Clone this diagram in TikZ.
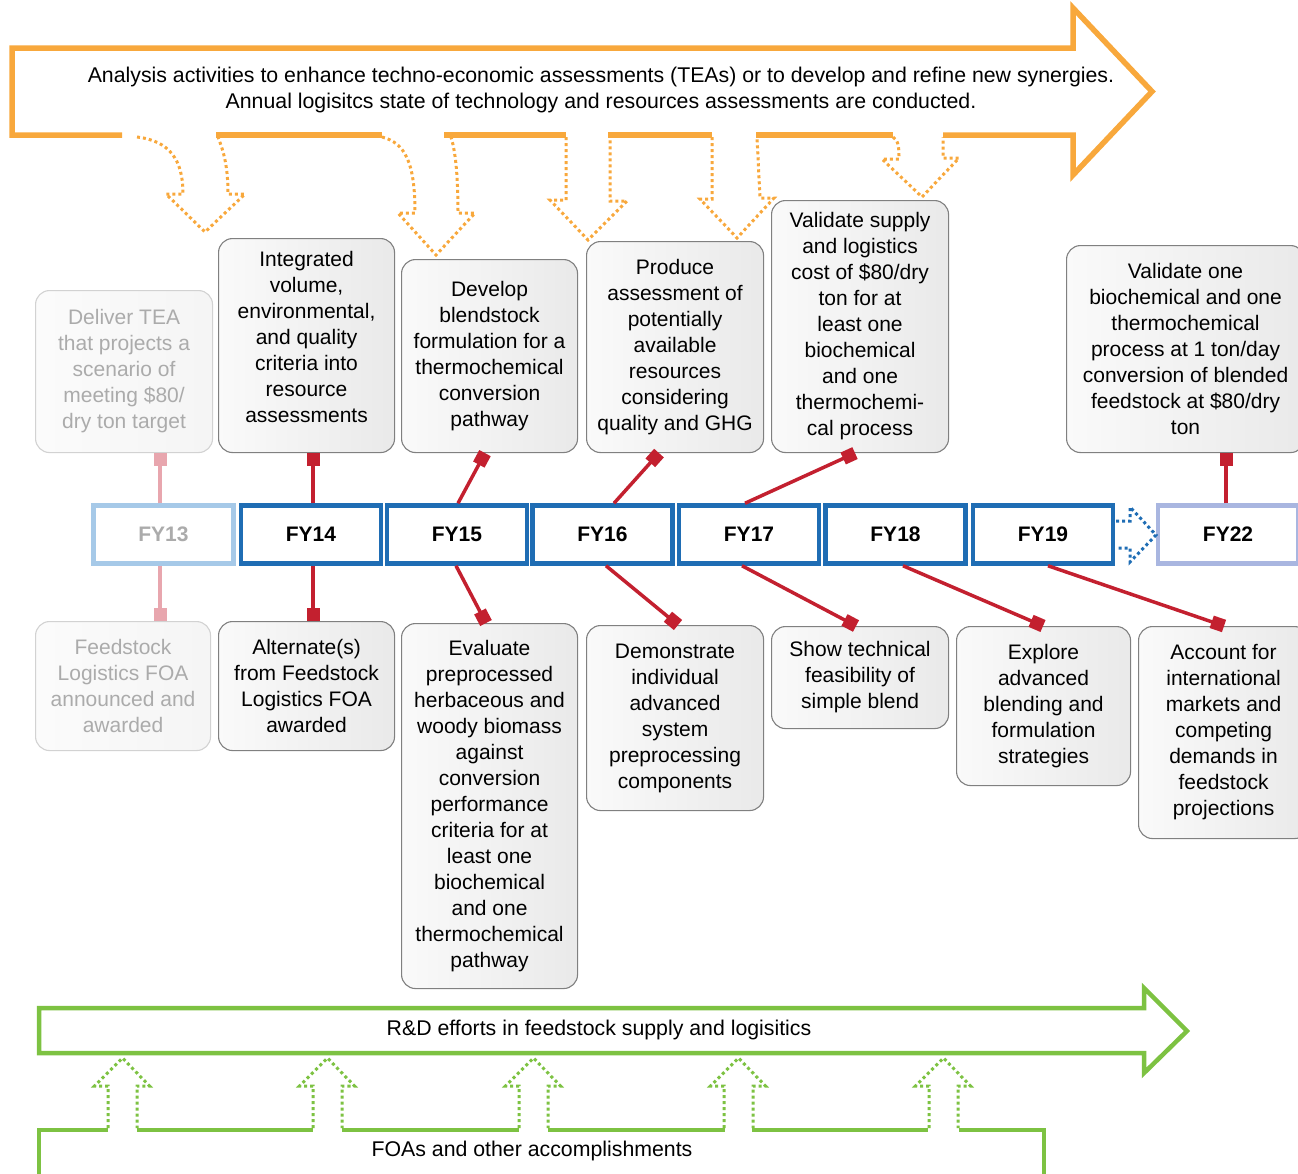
\documentclass[tikz,border=0pt]{standalone}
\usepackage{fontspec}
\setmainfont{Liberation Sans}
\usetikzlibrary{arrows.meta,calc}
\definecolor{orA}{HTML}{F8A83C}
\definecolor{grA}{HTML}{7DC242}
\definecolor{blA}{HTML}{1F6DB4}
\definecolor{blL}{HTML}{A6C9E8}
\definecolor{blP}{HTML}{A9B6E0}
\definecolor{redA}{HTML}{C3202F}
\definecolor{pinkA}{HTML}{E8A6AE}
\definecolor{txtF}{HTML}{ABABAB}
\definecolor{bordA}{HTML}{808080}
\begin{document}
\begin{tikzpicture}[x=1pt,y=-1pt,
 box/.style={draw=bordA, line width=1.1pt, rounded corners=14pt, anchor=north west, align=center, inner sep=0pt, font=\fontsize{21}{26}\selectfont, left color=gray!4, right color=gray!17, text=black},
 fbox/.style={box, draw=gray!35, left color=gray!3, right color=gray!8, text=txtF},
 fy/.style={draw=blA, line width=4.5pt, minimum width=140pt, minimum height=58pt, inner sep=0pt, font=\fontsize{21}{26}\selectfont\bfseries, fill=white},
 conn/.style={draw=redA, line width=3.5pt, -{Square[length=13pt,width=13pt]}},
 fconn/.style={conn, draw=pinkA},
 obig/.style={draw=orA, line width=5.5pt, line join=miter, miter limit=10},
 gbig/.style={draw=grA, line width=4.5pt, line join=miter, miter limit=10},
 odot/.style={draw=orA, line width=3pt, dash pattern=on 3pt off 3pt},
 gdot/.style={draw=grA, line width=3pt, dash pattern=on 3pt off 3pt},
 bdot/.style={draw=blA, line width=3pt, dash pattern=on 3pt off 3pt},
 lbl/.style={font=\fontsize{21.3}{26}\selectfont, align=center, inner sep=0pt}
]
\useasboundingbox (0,0) rectangle (1298,1173);
\clip (0,0) rectangle (1298,1173);

% ---- orange analysis arrow ----
\draw[obig] (122,135) -- (12,135) -- (12,48) -- (1073,48) -- (1073,8) -- (1152,91.5) -- (1073,175) -- (1073,135) -- (943,135);
\draw[obig] (216,135) -- (382,135);
\draw[obig] (444,135) -- (566,135);
\draw[obig] (608,135) -- (712,135);
\draw[obig] (756,135) -- (893,135);
\node[lbl] (toptext) at (601,90) {Analysis activities to enhance techno-economic assessments (TEAs) or to develop and refine new synergies.\\Annual logisitcs state of technology and resources assessments are conducted.};

% dotted down arrows
\draw[odot] (137,137) .. controls (170,141) and (183,160) .. (183,194) -- (166,194) -- (205,232) -- (245,194) -- (228,194) .. controls (228,162) and (222,148) .. (218,137);
\draw[odot] (382,137) .. controls (405,143) and (415,162) .. (415,213) -- (398,213) -- (436,255) -- (475,213) -- (458,213) .. controls (458,172) and (455,150) .. (451,137);
\draw[odot] (566,137) -- (566,200) -- (550,200) -- (588,240) -- (627,201) -- (610,201) -- (610,137);
\draw[odot] (712,137) -- (712,199) -- (700,199) -- (737,238) -- (774,198) -- (760,198) -- (757,137);
\draw[odot] (893,137) .. controls (899,140) and (899,150) .. (899,159) -- (882,159) -- (922,197) -- (959,158) -- (943,158) -- (943,137);

% ---- top boxes ----
\node[fbox, minimum width=177pt, minimum height=162pt] (t13) at (35,290) {Deliver TEA\\that projects a\\scenario of\\meeting \$80/\\dry ton target};
\node[box, minimum width=176pt, minimum height=214pt] (t14) at (218,238) {Integrated\\volume,\\environmental,\\and quality\\criteria into\\resource\\assessments\\[-16pt]\strut};
\node[box, minimum width=176pt, minimum height=193pt] (t15) at (401,259) {Develop\\blendstock\\formulation for a\\thermochemical\\conversion\\pathway};
\node[box, minimum width=177pt, minimum height=211pt] (t16) at (586,241) {Produce\\assessment of\\potentially\\available\\resources\\considering\\quality and GHG};
\node[box, minimum width=177pt, minimum height=252pt] (t17) at (771,200) {Validate supply\\and logistics\\cost of \$80/dry\\ton for at\\least one\\biochemical\\and one\\thermochemi-\\cal process};
\node[box, minimum width=238pt, minimum height=207pt] (t22) at (1066,245) {Validate one\\biochemical and one\\thermochemical\\process at 1 ton/day\\conversion of blended\\feedstock at \$80/dry\\ton};

% ---- timeline ----
\node[fy, draw=blL, text=txtF] (fy13) at (163.5,534.5) {FY13};
\node[fy] (fy14) at (311,534.5) {FY14};
\node[fy] (fy15) at (457,534.5) {FY15};
\node[fy] (fy16) at (602.5,534.5) {FY16};
\node[fy] (fy17) at (749,534.5) {FY17};
\node[fy] (fy18) at (895.5,534.5) {FY18};
\node[fy] (fy19) at (1043,534.5) {FY19};
\node[fy, draw=blP] (fy22) at (1228,534.5) {FY22};
\draw[bdot] (1116,521) -- (1130,521) -- (1130,507) -- (1156,535) -- (1130,562) -- (1130,548) -- (1116,548);

% ---- bottom boxes ----
\node[fbox, minimum width=175pt, minimum height=129pt] (b13) at (35,621) {Feedstock\\Logistics FOA\\announced and\\awarded};
\node[box, minimum width=176pt, minimum height=129pt] (b14) at (218,621) {Alternate(s)\\from Feedstock\\Logistics FOA\\awarded};
\node[box, minimum width=176pt, minimum height=365pt] (b15) at (401,623) {Evaluate\\preprocessed\\herbaceous and\\woody biomass\\against\\conversion\\performance\\criteria for at\\least one\\biochemical\\and one\\thermochemical\\pathway};
\node[box, minimum width=177pt, minimum height=185pt] (b16) at (586,625) {Demonstrate\\individual\\advanced\\system\\preprocessing\\components};
\node[box, minimum width=177pt, minimum height=102pt] (b17) at (771,626) {Show technical\\feasibility of\\simple blend};
\node[box, minimum width=174pt, minimum height=159pt] (b18) at (956,626) {Explore\\advanced\\blending and\\formulation\\strategies};
\node[box, minimum width=170pt, minimum height=212pt] (b19) at (1138,626) {Account for\\international\\markets and\\competing\\demands in\\feedstock\\projections};

% ---- connectors ----
\draw[fconn] (fy13.north -| 160,0) -- (t13.south -| 160,0);
\draw[conn] (fy14.north -| 313,0) -- (t14.south -| 313,0);
\draw[conn] (fy15.north -| 458,0) -- (t15.south -| 485,0);
\draw[conn] (fy16.north -| 614,0) -- (t16.south -| 659,0);
\draw[conn] (fy17.north -| 745,0) -- (t17.south -| 855,0);
\draw[conn] (fy22.north -| 1226,0) -- (t22.south -| 1226,0);
\draw[fconn] (fy13.south -| 160,0) -- (b13.north -| 160,0);
\draw[conn] (fy14.south -| 313,0) -- (b14.north -| 313,0);
\draw[conn] (fy15.south -| 456,0) -- (b15.north -| 486,0);
\draw[conn] (fy16.south -| 606,0) -- (b16.north -| 678,0);
\draw[conn] (fy17.south -| 742,0) -- (b17.north -| 856,0);
\draw[conn] (fy18.south -| 903,0) -- (b18.north -| 1043,0);
\draw[conn] (fy19.south -| 1048,0) -- (b19.north -| 1224,0);

% ---- green arrows ----
\draw[gbig] (39,1008) -- (1144,1008) -- (1144,988) -- (1187,1031) -- (1144,1073) -- (1144,1053) -- (39,1053) -- cycle;
\node[lbl] (rdtext) at (599,1030) {R\&D efforts in feedstock supply and logisitics};
\draw[gbig] (108,1130) -- (39,1130) -- (39,1185);
\draw[gbig] (137,1130) -- (313,1130);
\draw[gbig] (342,1130) -- (519,1130);
\draw[gbig] (548,1130) -- (725,1130);
\draw[gbig] (752,1130) -- (928,1130);
\draw[gbig] (959,1130) -- (1044,1130) -- (1044,1185);
\node[lbl] (foatext) at (532,1151) {FOAs and other accomplishments};
\foreach \c in {122.5,327.5,533.5,738.5,943.5}{
  \draw[gdot] (\c-14.5,1128) -- (\c-14.5,1086) -- (\c-28,1086) -- (\c,1058) -- (\c+27,1086) -- (\c+14.5,1086) -- (\c+14.5,1128);
}
\end{tikzpicture}
\end{document}
